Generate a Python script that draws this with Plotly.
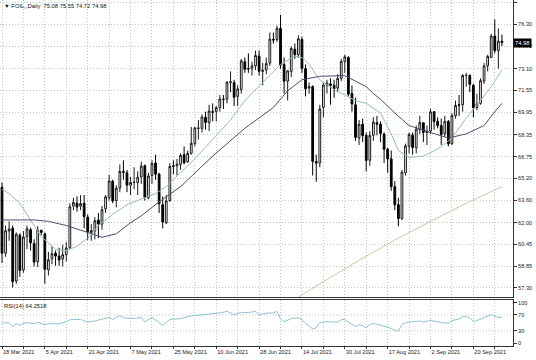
import plotly.graph_objects as go

# ---------------- data ----------------
date_labels = ["18 Mar 2021", "5 Apr 2021", "21 Apr 2021", "7 May 2021", "25 May 2021",
               "10 Jun 2021", "28 Jun 2021", "14 Jul 2021", "30 Jul 2021", "17 Aug 2021",
               "2 Sep 2021", "20 Sep 2021"]

price_ticks = [57.30, 58.85, 60.45, 62.00, 63.60, 65.20, 66.75, 68.35, 69.95, 71.55,
               73.10, 74.70, 76.30, 77.90]
rsi_ticks = [0, 30, 70, 100]

opens = [
    64.55, 59.80, 61.40, 61.60, 57.80, 61.10, 58.60, 61.00, 61.50, 60.50,
    59.20, 61.45, 61.20, 58.60, 59.40, 59.80, 59.60, 59.40, 59.70, 60.20,
    63.20, 63.40, 63.20, 63.40, 62.40, 61.30, 61.40, 62.20, 61.90, 63.00,
    63.80, 65.00, 63.60, 64.50, 65.70, 65.60, 64.70, 64.90, 64.90, 65.30,
    66.10, 63.80, 65.40, 66.30, 65.50, 63.30, 62.00, 63.60, 66.10, 66.10,
    66.20, 66.90, 66.40, 67.00, 67.70, 68.80, 68.80, 69.60, 69.20, 70.00,
    70.00, 70.30, 70.90, 70.90, 72.10, 72.10, 71.10, 71.60, 73.60, 73.10,
    73.10, 73.30, 74.00, 72.90, 73.00, 73.50, 75.20, 75.20, 76.00, 73.40,
    72.20, 72.90, 74.50, 74.10, 75.20, 73.10, 71.70, 71.80, 66.40, 66.30,
    70.30, 71.90, 72.00, 71.90, 71.70, 72.40, 73.60, 73.90, 71.30, 70.50,
    68.10, 69.10, 68.30, 66.50, 68.30, 69.20, 69.10, 68.40, 67.30, 66.60,
    64.60, 63.30, 62.30, 65.60, 67.50, 68.30, 67.40, 68.70, 69.20, 68.50,
    68.60, 70.00, 69.30, 69.00, 68.40, 69.30, 67.70, 69.70, 70.50, 70.50,
    72.60, 72.60, 71.90, 70.30, 70.60, 72.20, 73.30, 73.90, 75.45, 74.40,
    75.08]
highs = [
    64.90, 61.80, 62.10, 61.80, 61.30, 61.25, 61.40, 61.80, 61.65, 60.80,
    61.75, 61.50, 61.30, 59.90, 60.30, 60.00, 60.20, 60.40, 60.60, 63.40,
    63.80, 63.90, 64.00, 64.00, 62.60, 61.90, 62.40, 62.70, 63.20, 64.00,
    65.45, 65.10, 64.70, 66.20, 66.50, 65.80, 65.30, 66.00, 65.70, 66.40,
    66.20, 65.60, 66.50, 66.90, 65.60, 63.90, 64.00, 66.30, 66.50, 66.60,
    67.00, 67.50, 67.20, 68.90, 68.90, 69.40, 69.80, 70.00, 70.50, 70.60,
    70.40, 71.20, 71.20, 72.20, 72.90, 72.30, 71.90, 73.80, 73.90, 74.20,
    73.60, 74.40, 74.40, 73.50, 73.90, 75.70, 75.70, 76.20, 76.98, 73.90,
    73.00, 74.70, 74.90, 75.50, 75.40, 73.40, 72.10, 71.90, 66.90, 70.50,
    72.10, 72.30, 72.40, 72.30, 72.70, 73.80, 74.10, 74.00, 71.90, 71.00,
    69.40, 69.50, 68.50, 68.60, 69.60, 69.70, 69.30, 68.50, 67.40, 67.20,
    65.00, 63.80, 65.80, 67.70, 68.50, 68.50, 69.00, 69.70, 69.20, 69.00,
    70.20, 70.00, 69.60, 69.50, 69.70, 69.40, 69.90, 70.80, 71.20, 72.70,
    72.80, 72.70, 72.00, 71.30, 72.40, 73.50, 74.10, 75.60, 76.65, 76.00,
    75.55]
lows = [
    59.10, 59.55, 60.70, 57.32, 57.60, 58.10, 58.40, 60.10, 60.00, 58.85,
    58.80, 61.10, 57.60, 58.20, 59.00, 58.90, 58.90, 58.85, 59.20, 60.10,
    62.90, 62.80, 62.90, 61.60, 60.75, 60.70, 60.80, 60.90, 61.50, 62.70,
    63.60, 63.40, 63.10, 64.20, 65.10, 64.20, 64.00, 64.40, 64.00, 64.80,
    63.60, 63.70, 64.80, 65.10, 62.70, 61.60, 61.90, 63.50, 65.50, 65.40,
    65.80, 66.20, 66.30, 66.90, 67.50, 68.00, 68.50, 68.70, 68.60, 69.30,
    69.30, 70.00, 70.20, 70.60, 71.40, 70.40, 70.40, 71.30, 72.80, 72.80,
    72.60, 73.00, 72.60, 71.90, 72.70, 73.30, 74.90, 75.00, 73.10, 71.30,
    70.80, 72.50, 73.80, 73.90, 72.80, 71.10, 71.30, 65.40, 64.95, 66.00,
    69.60, 71.30, 70.50, 71.00, 71.40, 72.20, 72.80, 71.10, 70.00, 67.90,
    67.60, 67.80, 65.70, 66.10, 67.90, 68.30, 67.80, 66.30, 65.60, 64.30,
    62.90, 61.74, 62.20, 65.40, 67.00, 66.90, 67.00, 68.40, 67.80, 67.60,
    68.40, 68.70, 68.80, 67.60, 68.20, 67.50, 67.60, 69.50, 69.70, 70.00,
    71.80, 71.40, 69.60, 70.10, 70.50, 72.00, 72.90, 73.90, 74.20, 73.10,
    74.72]
closes = [
    59.80, 61.42, 61.55, 57.76, 61.18, 58.56, 60.97, 61.56, 60.55, 59.16,
    61.45, 61.30, 58.65, 59.33, 59.77, 59.60, 59.32, 59.70, 60.18, 63.15,
    63.46, 63.13, 63.38, 62.44, 61.35, 61.43, 62.14, 61.91, 62.94, 63.86,
    65.01, 63.58, 64.49, 65.69, 65.63, 64.71, 64.90, 64.92, 65.28, 66.08,
    63.82, 65.37, 66.27, 65.49, 63.36, 62.05, 63.58, 66.05, 66.07, 66.21,
    66.85, 66.32, 67.00, 67.72, 68.83, 68.81, 69.62, 69.23, 70.05, 69.96,
    70.29, 70.91, 70.88, 72.12, 72.15, 71.04, 71.64, 73.66, 73.06, 73.08,
    73.30, 74.05, 72.91, 72.98, 73.47, 75.23, 75.16, 76.00, 73.37, 72.20,
    72.94, 74.56, 74.10, 75.25, 73.13, 71.65, 71.81, 66.42, 66.30, 70.20,
    71.91, 72.07, 71.91, 71.65, 72.39, 73.62, 73.95, 71.26, 70.56, 68.15,
    69.09, 68.28, 66.48, 68.29, 69.25, 69.09, 68.44, 67.29, 66.59, 64.60,
    63.30, 62.30, 65.64, 67.54, 68.36, 67.42, 68.74, 69.21, 68.50, 68.59,
    69.99, 69.29, 69.00, 68.35, 69.30, 67.68, 69.72, 70.45, 70.46, 72.61,
    72.61, 71.97, 70.29, 70.56, 72.23, 73.30, 73.98, 75.45, 74.40, 75.08,
    74.98]

# moving averages: (bar index, value)
ma_fast_bars = [0, 2, 5, 8, 11, 15, 18, 21, 25, 27, 31, 35, 38, 43, 46, 50, 54, 59, 64, 68,
                73, 78, 82, 84, 86, 89, 93, 96, 99, 102, 106, 109, 111, 114, 118, 122, 126,
                129, 133, 137, 140]
ma_fast_vals = [64.4, 64.1, 63.4, 62.2, 61.0, 60.1, 60.0, 60.3, 61.1, 61.8, 62.6, 63.3, 63.6,
                64.1, 64.6, 65.6, 66.6, 68.0, 69.4, 70.8, 72.1, 73.4, 74.0, 73.9, 73.4, 72.3,
                71.6, 71.2, 70.8, 70.6, 69.9, 68.4, 67.2, 66.7, 66.8, 67.3, 68.1, 69.2, 70.5,
                71.8, 73.0]
ma_slow_bars = [0, 9, 13, 18, 24, 28, 32, 36, 39, 44, 50, 59, 68, 76, 80, 84, 89, 96, 99, 102,
                104, 106, 110, 114, 120, 125, 130, 135, 138, 140]
ma_slow_vals = [62.2, 62.2, 62.1, 61.8, 61.3, 60.95, 61.2, 62.0, 62.5, 63.5, 64.6, 66.8, 68.8,
                70.3, 71.5, 72.3, 72.55, 72.6, 72.2, 71.8, 71.3, 70.9, 69.9, 69.0, 68.5, 68.1,
                68.4, 69.0, 70.0, 70.6]
ma_long_bars = [75, 80, 90, 100, 110, 120, 130, 140]
ma_long_vals = [55.4, 56.2, 57.75, 59.3, 60.75, 62.1, 63.4, 64.6]

rsi_bars = [0, 1, 2, 3, 4, 5, 6, 7, 9, 10, 12, 13, 16, 18, 19, 20, 22, 23, 24, 26, 28, 30, 31,
            33, 34, 37, 39, 40, 42, 44, 45, 47, 50, 53, 55, 57, 59, 61, 63, 65, 67, 69, 71, 72,
            74, 76, 77, 78, 79, 81, 83, 84, 85, 87, 88, 89, 91, 93, 94, 95, 96, 97, 99, 100,
            101, 102, 103, 104, 106, 108, 110, 111, 112, 113, 114, 116, 117, 118, 120, 121,
            123, 125, 126, 128, 129, 130, 131, 132, 133, 135, 137, 138, 139, 140]
rsi_vals = [49, 51, 50, 41, 48, 44, 49, 51, 48, 52, 46, 48, 48, 53, 58, 59, 59, 55, 52, 55, 59,
            64, 59, 68, 63, 61, 64, 53, 64, 52, 44, 59, 61, 68, 70, 71, 73, 75, 79, 71, 76, 76,
            79, 70, 75, 75, 79, 60, 53, 61, 63, 58, 50, 35, 38, 51, 53, 53, 52, 58, 59, 52, 41,
            46, 43, 38, 46, 49, 45, 40, 32, 30, 46, 51, 52, 54, 55, 52, 57, 54, 51, 49, 56, 60,
            66, 66, 62, 54, 56, 64, 71, 66, 64, 64.25]

title_text = "\u25bc FOIL,,Daily  75.08 75.55 74.72 74.98"
rsi_text = "RSI(14) 64.2518"
last_price = 74.98

# ---------------- figure ----------------
bars = list(range(len(opens)))
grid_ticks = list(range(0, 144, 6))
grid_text = [date_labels[i // 2] if i % 2 == 0 and i // 2 < len(date_labels) else ""
             for i in range(len(grid_ticks))]

FONT = "Liberation Sans"
FS = 5.6
GRID = "#c4c4c4"
GDASH = "1px,2px"

fig = go.Figure()
fig.add_trace(go.Scatter(x=ma_long_bars, y=ma_long_vals, mode="lines",
                         line=dict(color="#d6c29e", width=1), hoverinfo="skip"))
fig.add_trace(go.Candlestick(
    x=bars, open=opens, high=highs, low=lows, close=closes,
    increasing=dict(line=dict(color="#1a1a1a", width=1), fillcolor="#ffffff"),
    decreasing=dict(line=dict(color="#000000", width=1), fillcolor="#000000"),
    whiskerwidth=0, hoverinfo="skip"))
fig.add_trace(go.Scatter(x=ma_fast_bars, y=ma_fast_vals, mode="lines",
                         line=dict(color="#97bdb3", width=1), hoverinfo="skip"))
fig.add_trace(go.Scatter(x=ma_slow_bars, y=ma_slow_vals, mode="lines",
                         line=dict(color="#4d4d6e", width=1), hoverinfo="skip"))
fig.add_trace(go.Scatter(x=rsi_bars, y=rsi_vals, mode="lines", xaxis="x2", yaxis="y2",
                         line=dict(color="#8dc3d4", width=1), hoverinfo="skip"))

for lvl in (30, 70):
    fig.add_shape(type="line", xref="x2 domain", yref="y2", x0=0, x1=1, y0=lvl, y1=lvl,
                  line=dict(color=GRID, width=1, dash=GDASH), layer="below")

fig.update_layout(
    width=536, height=360,
    margin=dict(l=0, r=23, t=0, b=14),
    paper_bgcolor="#ffffff", plot_bgcolor="#ffffff",
    showlegend=False, hovermode=False, dragmode=False,
    font=dict(family=FONT, size=FS, color="#222222"),
    xaxis=dict(domain=[0, 1], anchor="y", range=[-0.56, 143.1],
               tickmode="array", tickvals=grid_ticks, showticklabels=False, ticks="",
               showgrid=True, gridcolor=GRID, griddash=GDASH, gridwidth=1,
               showline=True, linecolor="#333333", linewidth=1, mirror=False,
               zeroline=False, rangeslider=dict(visible=False)),
    yaxis=dict(domain=[0.1416, 1], anchor="x", side="right", range=[56.65, 78.044],
               tickmode="array", tickvals=price_ticks,
               ticktext=[f"{v:.2f}" for v in price_ticks],
               ticks="outside", ticklen=3, tickcolor="#333333",
               showgrid=True, gridcolor=GRID, griddash=GDASH, gridwidth=1,
               showline=True, linecolor="#333333", linewidth=1, zeroline=False,
               tickfont=dict(family=FONT, size=FS, color="#222222")),
    xaxis2=dict(domain=[0, 1], anchor="y2", matches="x", range=[-0.56, 143.1],
                tickmode="array", tickvals=grid_ticks, ticktext=grid_text,
                ticklabelposition="outside right", ticks="outside", ticklen=2,
                tickcolor="#333333",
                showgrid=True, gridcolor=GRID, griddash=GDASH, gridwidth=1,
                showline=True, linecolor="#333333", linewidth=1, mirror=True,
                zeroline=False, tickfont=dict(family=FONT, size=FS, color="#222222")),
    yaxis2=dict(domain=[0, 0.133], anchor="x2", side="right", range=[-7.5, 107.5],
                tickmode="array", tickvals=rsi_ticks, ticks="outside", ticklen=3,
                tickcolor="#333333", showgrid=False,
                showline=True, linecolor="#333333", linewidth=1, zeroline=False,
                tickfont=dict(family=FONT, size=FS, color="#222222")),
    annotations=[
        dict(text=title_text, xref="paper", yref="paper", x=0, y=1, xanchor="left",
             yanchor="top", xshift=2, yshift=-1, showarrow=False,
             font=dict(family=FONT, size=FS + 0.2, color="#111111")),
        dict(text=rsi_text, xref="paper", yref="paper", x=0, y=0.133, xanchor="left",
             yanchor="top", xshift=2, yshift=-1, showarrow=False,
             font=dict(family=FONT, size=FS + 0.2, color="#111111")),
        dict(text=f"{last_price:.2f}", xref="paper", yref="y", x=1, y=last_price,
             xanchor="left", yanchor="middle", showarrow=False, bgcolor="#000000",
             borderpad=1, font=dict(family=FONT, size=FS + 0.2, color="#ffffff")),
    ],
)

fig.write_html("out.html", config={"displayModeBar": False, "staticPlot": True},
               post_script="document.body.style.margin='0';document.body.style.overflow='hidden';")
